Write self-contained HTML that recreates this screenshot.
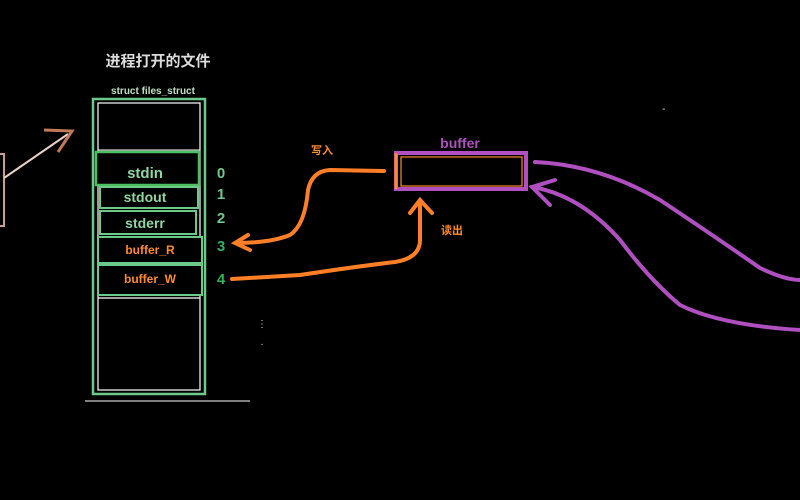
<!DOCTYPE html>
<html><head><meta charset="utf-8"><style>
html,body{margin:0;padding:0;background:#000;}
body{width:800px;height:500px;overflow:hidden;position:relative;font-family:"Liberation Sans","Noto Sans CJK SC",sans-serif;}
</style></head><body>
<svg width="800" height="500" viewBox="0 0 800 500" xmlns="http://www.w3.org/2000/svg" style="position:absolute;left:0;top:0">
<rect width="800" height="500" fill="#000"/>
<g font-family="Liberation Sans, Noto Sans CJK SC, sans-serif" font-weight="bold">
<text x="158" y="66" fill="#ddd" font-size="15" text-anchor="middle">进程打开的文件</text>
<text x="153" y="94" fill="#bde0c4" font-size="10" text-anchor="middle">struct files_struct</text>
</g>
<!-- outer column -->
<rect x="93" y="99" width="112" height="295" fill="none" stroke="#6cc98a" stroke-width="2.5"/>
<rect x="98" y="103" width="102" height="287" fill="none" stroke="#fff" stroke-width="1.2"/>
<line x1="85" y1="401" x2="250" y2="401" stroke="#fff" stroke-width="1"/>
<!-- cells -->
<rect x="96" y="152" width="103" height="33" fill="#000" stroke="#4cc060" stroke-width="2.5"/>
<rect x="100" y="187" width="98" height="21" fill="#000" stroke="#6cc98a" stroke-width="2"/>
<rect x="100" y="211" width="96" height="23" fill="#000" stroke="#6cc98a" stroke-width="2"/>
<rect x="98" y="237" width="104" height="26" fill="#000" stroke="#6cc98a" stroke-width="2"/>
<rect x="98" y="265" width="104" height="30" fill="#000" stroke="#6cc98a" stroke-width="2"/>
<line x1="98" y1="298" x2="200" y2="298" stroke="#fff" stroke-width="1.2"/>
<line x1="98" y1="150" x2="200" y2="150" stroke="#fff" stroke-width="1"/>
<g font-family="Liberation Sans, sans-serif" font-weight="bold">
<text x="145" y="178" fill="#8fd6a0" font-size="15" text-anchor="middle">stdin</text>
<text x="145" y="202" fill="#8fd6a0" font-size="14" text-anchor="middle">stdout</text>
<text x="145" y="228" fill="#8fd6a0" font-size="14" text-anchor="middle">stderr</text>
<text x="150" y="254" fill="#ff8a2a" font-size="12" text-anchor="middle">buffer_R</text>
<text x="150" y="283" fill="#ff8a2a" font-size="12" text-anchor="middle">buffer_W</text>
<text x="221" y="178" fill="#6cc98a" font-size="15" text-anchor="middle">0</text>
<text x="221" y="199" fill="#6cc98a" font-size="15" text-anchor="middle">1</text>
<text x="221" y="223" fill="#6cc98a" font-size="15" text-anchor="middle">2</text>
<text x="221" y="251" fill="#33b060" font-size="15" text-anchor="middle">3</text>
<text x="221" y="284" fill="#33b060" font-size="15" text-anchor="middle">4</text>
</g>
<text x="262" y="327" fill="#ddd" font-size="10" text-anchor="middle">⋮</text>
<text x="262" y="347" fill="#ddd" font-size="10" text-anchor="middle">·</text>
<text x="662" y="112" fill="#ddd" font-size="10">-</text>
<!-- left arrow -->
<rect x="-6" y="154" width="10" height="72" fill="none" stroke="#c9a08a" stroke-width="2"/>
<line x1="4" y1="178" x2="68" y2="134" stroke="#e8d0c4" stroke-width="2"/>
<path d="M44,130 L72,131 L58,152" fill="none" stroke="#c07a5a" stroke-width="3"/>
<!-- buffer -->
<text x="460" y="148" fill="#b04fc0" font-size="14" font-weight="bold" text-anchor="middle" font-family="Liberation Sans, sans-serif">buffer</text>
<rect x="396" y="153" width="130" height="36" fill="none" stroke="#b04fc0" stroke-width="4"/>
<rect x="401" y="157" width="121" height="29" fill="none" stroke="#ff8a2a" stroke-width="1.2"/>
<line x1="396" y1="153" x2="396" y2="189" stroke="#ff8a2a" stroke-width="3"/>
<!-- orange arrows -->
<g fill="none" stroke="#ff7f27" stroke-width="4" stroke-linecap="round">
<path d="M384,171 L330,170 Q312,171 308,190 Q305,225 290,235 Q270,243 236,243"/>
<path d="M248,235 L235,243 L250,250"/>
<path d="M232,279 L300,275 Q360,266 395,262 Q420,258 420,240 L420,203"/>
<path d="M410,213 L420,200 L432,213"/>
</g>
<text x="322" y="154" fill="#ff8a2a" font-size="11" font-weight="bold" text-anchor="middle">写入</text>
<text x="452" y="234" fill="#ff8a2a" font-size="11" font-weight="bold" text-anchor="middle">读出</text>
<!-- purple curves -->
<g fill="none" stroke="#b04fc0" stroke-width="4" stroke-linecap="round">
<path d="M535,162 Q600,165 660,200 Q720,240 760,268 Q785,280 800,280"/>
<path d="M532,187 Q580,195 620,240 Q650,280 680,305 Q720,325 800,330"/>
<path d="M555,180 L532,187 L550,205"/>
</g>
</svg>
</body></html>
